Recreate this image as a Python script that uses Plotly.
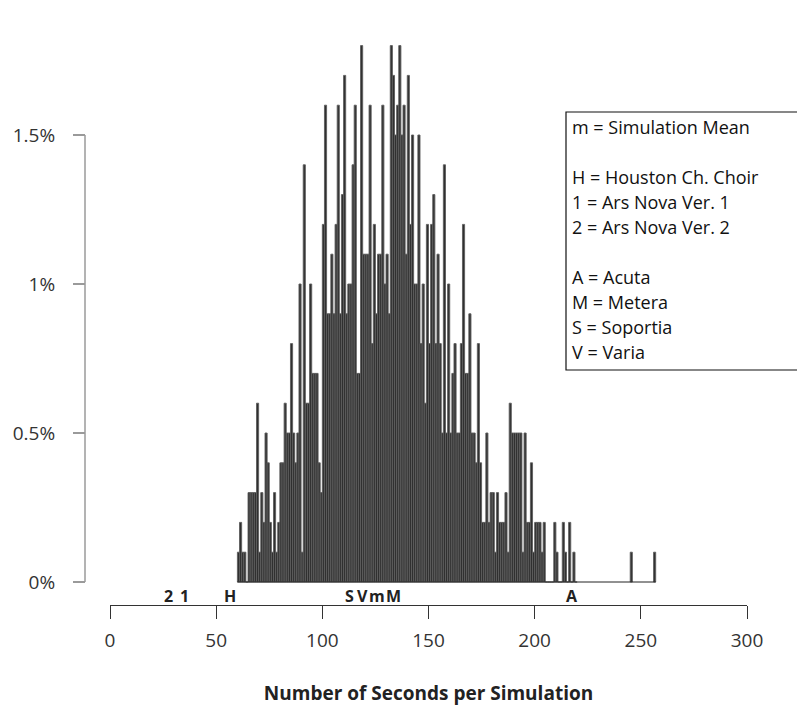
import plotly.graph_objects as go

# ---- data -------------------------------------------------------------
# simulation length in seconds (1-second bins, left edge) and number of
# simulations (out of 1000) falling in each bin
seconds = list(range(60, 220)) + [245, 256]
counts = [
    1, 2, 1, 1, 0, 3, 3, 3, 3, 6,          # 60-69
    1, 3, 2, 5, 4, 2, 1, 3, 1, 2,          # 70-79
    4, 4, 6, 5, 5, 8, 5, 4, 5, 10,         # 80-89
    1, 14, 6, 6, 10, 7, 7, 7, 4, 3,        # 90-99
    12, 16, 9, 9, 11, 9, 12, 16, 9, 13,    # 100-109
    17, 9, 10, 10, 14, 16, 7, 7, 18, 11,   # 110-119
    11, 11, 16, 8, 12, 9, 11, 11, 16, 10,  # 120-129
    11, 9, 18, 17, 15, 16, 18, 15, 16, 11, # 130-139
    17, 12, 15, 10, 10, 15, 8, 10, 6, 12,  # 140-149
    8, 12, 13, 8, 11, 8, 5, 14, 5, 10,     # 150-159
    5, 7, 8, 5, 5, 8, 12, 7, 7, 9,         # 160-169
    5, 5, 4, 8, 4, 2, 2, 5, 2, 3,          # 170-179
    3, 1, 3, 2, 2, 2, 3, 1, 6, 5,          # 180-189
    5, 5, 5, 5, 1, 5, 2, 2, 4, 1,          # 190-199
    2, 2, 2, 1, 2, 0, 0, 0, 0, 2,          # 200-209
    1, 0, 0, 2, 1, 0, 2, 0, 1, 0,          # 210-219
    1, 1,                                  # 245, 256
]
n_sims = 1000
pct = [c * 100.0 / n_sims for c in counts]

# reference performances marked under the histogram
mark_labels = ["2", "1", "H", "S", "V", "m", "M", "A"]
mark_seconds = [27.6, 35.1, 56.5, 112.6, 119.1, 125.9, 133.3, 217.8]

legend_lines = [
    "m = Simulation Mean", "",
    "H = Houston Ch. Choir", "1 = Ars Nova Ver. 1", "2 = Ars Nova Ver. 2", "",
    "A = Acuta", "M = Metera", "S = Soportia", "V = Varia",
]

x_ticks = [0, 50, 100, 150, 200, 250, 300]
y_ticks = [0, 0.5, 1, 1.5]
y_ticktext = ["0%", "0.5%", "1%", "1.5%"]

# ---- layout geometry (pixels) -----------------------------------------
W, H = 797, 708
ML, MR, MT, MB = 60, 50, 20, 103
PW, PH = W - ML - MR, H - MT - MB


def px(xp):
    return (xp - ML) / PW


def py(yp):
    return (H - MB - yp) / PH


FONT = "Open Sans"

fig = go.Figure()
fig.add_bar(
    x=seconds, y=pct, width=1, offset=0,
    marker=dict(color="#303030", line=dict(color="#5e5e5e", width=0.9)),
    hoverinfo="x+y",
)

shapes = [
    # histogram baseline
    dict(type="line", xref="x", yref="y", x0=min(seconds), x1=max(seconds) + 1,
         y0=0, y1=0, line=dict(color="#222", width=1)),
    # y axis line (only between first and last tick)
    dict(type="line", xref="paper", yref="y", x0=px(85), x1=px(85),
         y0=y_ticks[0], y1=y_ticks[-1], line=dict(color="#9a9a9a", width=1.5)),
    # legend box
    dict(type="rect", xref="paper", yref="paper", x0=px(566), x1=px(805),
         y0=py(370), y1=py(112), line=dict(color="#111", width=1.2),
         fillcolor="rgba(0,0,0,0)"),
]

annotations = []
for lab, s in zip(mark_labels, mark_seconds):
    annotations.append(dict(
        x=s, y=-0.046, xref="x", yref="y", text=f"<b>{lab}</b>", showarrow=False,
        font=dict(family=FONT, size=16, color="#222"), xanchor="center", yanchor="middle"))

line_y0, line_dy = 127, 25
for i, t in enumerate(legend_lines):
    if not t:
        continue
    annotations.append(dict(
        x=px(570), y=py(line_y0 + i * line_dy), xref="paper", yref="paper",
        text=t, showarrow=False, xanchor="left", yanchor="middle",
        font=dict(family=FONT, size=18, color="#111")))

fig.update_layout(
    width=W, height=H,
    margin=dict(l=ML, r=MR, t=MT, b=MB, pad=0),
    paper_bgcolor="white", plot_bgcolor="white",
    showlegend=False,
    shapes=shapes, annotations=annotations,
    font=dict(family=FONT, color="#333"),
    xaxis=dict(
        domain=[px(110), 1], range=[0, 300], showgrid=False, zeroline=False,
        showline=True, linecolor="#333", linewidth=1,
        ticks="outside", ticklen=13, tickcolor="#333", tickwidth=1,
        tickvals=x_ticks, tickfont=dict(size=19, color="#333"),
        ticklabelstandoff=5,
        title=dict(text="<b>Number of Seconds per Simulation</b>",
                   font=dict(size=19, color="#222"), standoff=34),
        automargin=False,
    ),
    yaxis=dict(
        range=[-(605 - 582) / 298.0 * 1.0, (582 - 20) / 298.0],
        anchor="free", position=px(85), showgrid=False, zeroline=False,
        showline=False, ticks="outside", ticklen=12, tickcolor="#9a9a9a",
        tickwidth=1.5, tickvals=y_ticks, ticktext=y_ticktext,
        tickfont=dict(size=19, color="#333"), ticklabelstandoff=14,
        automargin=False,
    ),
)

fig.write_html("out.html")
